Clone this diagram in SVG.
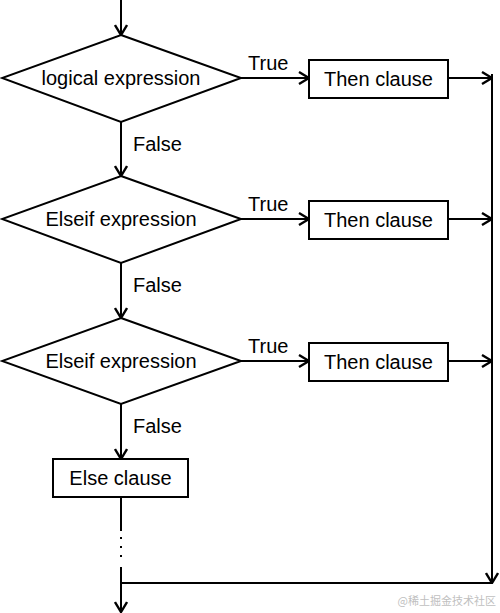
<svg xmlns="http://www.w3.org/2000/svg" width="500" height="613" viewBox="0 0 500 613">
<defs>
<marker id="ah" viewBox="0 0 12 14" refX="11" refY="7" markerWidth="12" markerHeight="14" markerUnits="userSpaceOnUse" orient="auto">
<path d="M1,1 L11,7 L1,13" fill="none" stroke="#000" stroke-width="2.4"/>
</marker>
<style>
.n{fill:#fff;stroke:#000;stroke-width:2}
.c{fill:none;stroke:#000;stroke-width:2}
.t{font-family:"Liberation Sans",Arial,sans-serif;font-size:20px;fill:#000}
.m{text-anchor:middle}
</style>
</defs>
<rect width="500" height="613" fill="#fff"/>
<g id="connectors">
<path class="c" d="M121,0 V35" marker-end="url(#ah)"/>
<path class="c" d="M121,122 V176" marker-end="url(#ah)"/>
<path class="c" d="M121,263 V318" marker-end="url(#ah)"/>
<path class="c" d="M121,404 V459" marker-end="url(#ah)"/>
<path class="c" d="M241,78 H309" marker-end="url(#ah)"/>
<path class="c" d="M241,219 H309" marker-end="url(#ah)"/>
<path class="c" d="M241,361 H309" marker-end="url(#ah)"/>
<path class="c" d="M448,78 H492" marker-end="url(#ah)"/>
<path class="c" d="M448,219 H492" marker-end="url(#ah)"/>
<path class="c" d="M448,361 H492" marker-end="url(#ah)"/>
<path class="c" d="M492,74 V583" marker-end="url(#ah)"/>
<path class="c" d="M492,583 H121"/>
<path class="c" d="M121,497 V531"/>
<path class="c" d="M121,537 V562" stroke-dasharray="2,7"/>
<path class="c" d="M121,567 V612" marker-end="url(#ah)"/>
<text class="t" x="248" y="70">True</text>
<text class="t" x="248" y="211">True</text>
<text class="t" x="248" y="353">True</text>
<text class="t" x="133" y="151">False</text>
<text class="t" x="133" y="292">False</text>
<text class="t" x="133" y="433">False</text>
</g>
<g id="cond1">
<polygon class="n" points="121,35 241,78 121,122 2,78"/>
<text class="t m" x="121" y="85">logical expression</text>
</g>
<g id="cond2">
<polygon class="n" points="121,176 241,219 121,263 2,219"/>
<text class="t m" x="121" y="226">Elseif expression</text>
</g>
<g id="cond3">
<polygon class="n" points="121,318 241,361 121,404 2,361"/>
<text class="t m" x="121" y="368">Elseif expression</text>
</g>
<g id="then1">
<rect class="n" x="309" y="60" width="139" height="38"/>
<text class="t m" x="378.5" y="86">Then clause</text>
</g>
<g id="then2">
<rect class="n" x="309" y="201" width="139" height="38"/>
<text class="t m" x="378.5" y="227">Then clause</text>
</g>
<g id="then3">
<rect class="n" x="309" y="343" width="139" height="38"/>
<text class="t m" x="378.5" y="369">Then clause</text>
</g>
<g id="else">
<rect class="n" x="53" y="459" width="135" height="38"/>
<text class="t m" x="120.5" y="485">Else clause</text>
</g>
<text x="496" y="605" text-anchor="end" font-family="'Noto Sans CJK SC',sans-serif" font-size="11" fill="#c0c0c0">@稀土掘金技术社区</text>
</svg>
